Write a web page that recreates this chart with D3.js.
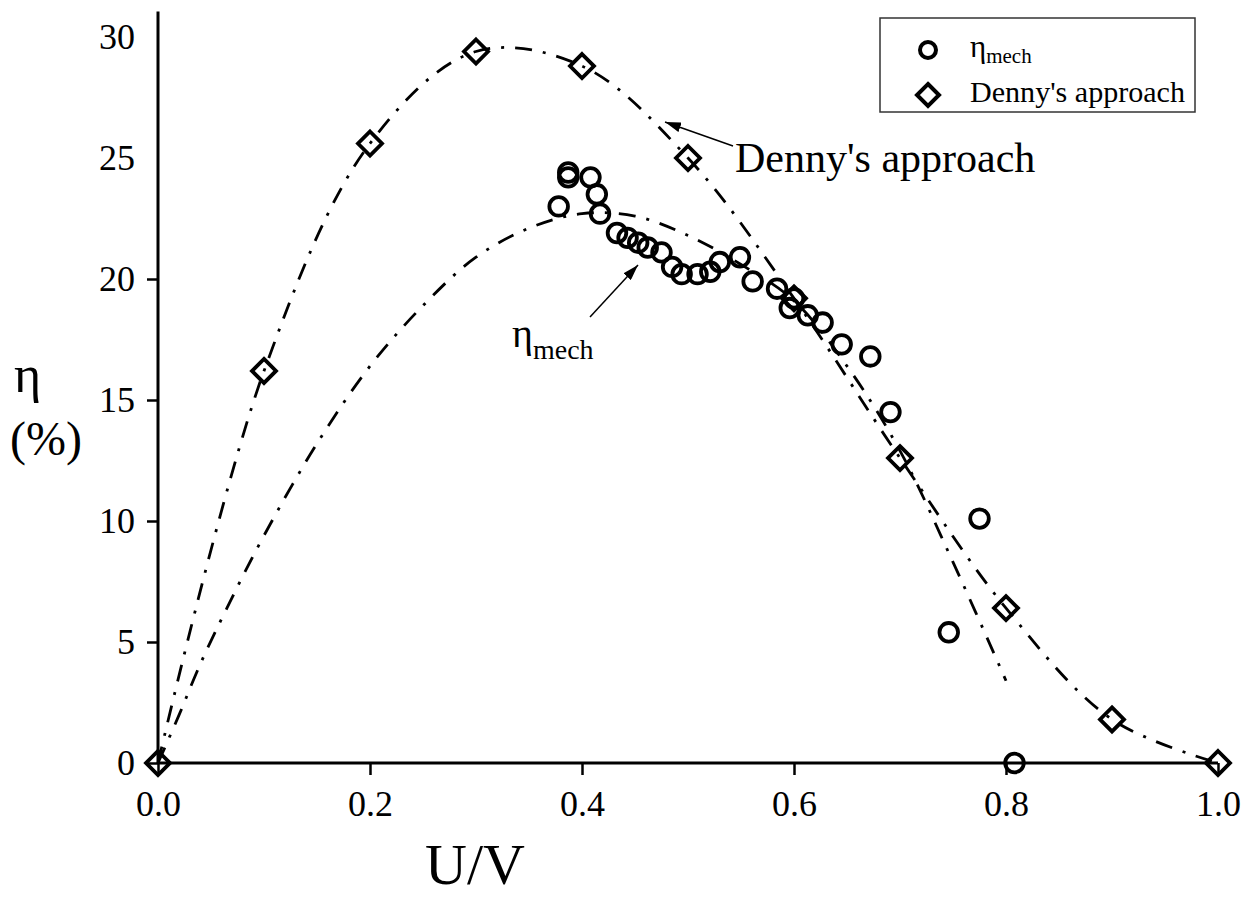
<!DOCTYPE html>
<html>
<head>
<meta charset="utf-8">
<script src="https://cdn.jsdelivr.net/npm/d3@7"></script>
<style>
  html, body { margin: 0; padding: 0; background: #fff; }
  svg { display: block; }
  text { font-family: "Liberation Serif", "Times New Roman", serif; fill: #000; }
</style>
</head>
<body>
<svg id="chart" width="1248" height="900"></svg>
<script>
// Measured mechanical efficiency (U/V, eta %)
const mechU = [0.378, 0.387, 0.387, 0.408, 0.414, 0.417, 0.433, 0.443, 0.453, 0.462,
               0.475, 0.485, 0.494, 0.509, 0.521, 0.530, 0.549, 0.561, 0.584, 0.596,
               0.600, 0.613, 0.627, 0.645, 0.672, 0.691, 0.746, 0.775, 0.808];
const mechEta = [23.0, 24.4, 24.2, 24.2, 23.5, 22.7, 21.9, 21.7, 21.5, 21.3,
                 21.1, 20.5, 20.2, 20.2, 20.3, 20.7, 20.9, 19.9, 19.6, 18.8,
                 19.2, 18.5, 18.2, 17.3, 16.8, 14.5, 5.4, 10.1, 0.0];

// Denny's approach
const dennyU = [0.0, 0.1, 0.2, 0.3, 0.4, 0.5, 0.6, 0.7, 0.8, 0.9, 1.0];
const dennyEta = [0.0, 16.2, 25.6, 29.4, 28.8, 25.0, 19.2, 12.6, 6.4, 1.8, 0.0];

// Fitted trend of the measured efficiency
const mechFitU = [0, 0.02, 0.04, 0.065, 0.1, 0.15, 0.2, 0.25, 0.3, 0.35, 0.4,
                  0.45, 0.5, 0.55, 0.6, 0.65, 0.7, 0.75, 0.8];
const mechFitEta = [0, 2.0, 4.1, 6.4, 9.4, 13.2, 16.4, 18.9, 20.9, 22.1, 22.7,
                    22.6, 21.8, 20.6, 19.1, 16.4, 12.9, 8.3, 3.4];

const xTicks = [0.0, 0.2, 0.4, 0.6, 0.8, 1.0];
const yTicks = [0, 5, 10, 15, 20, 25, 30];
const yTicksMarked = [0, 5, 10, 15, 20];

const svg = d3.select("#chart");
svg.append("rect").attr("width", 1248).attr("height", 900).attr("fill", "#fff");

const x = d3.scaleLinear().domain([0, 1]).range([158, 1218]);
const y = d3.scaleLinear().domain([0, 30]).range([763, 37]);

const defs = svg.append("defs");
defs.append("marker")
  .attr("id", "arrow")
  .attr("viewBox", "0 0 16 10")
  .attr("refX", 16).attr("refY", 5)
  .attr("markerWidth", 16).attr("markerHeight", 10)
  .attr("markerUnits", "userSpaceOnUse")
  .attr("orient", "auto")
  .append("path").attr("d", "M0,0 L16,5 L0,10 Z").attr("fill", "#000");

// Axes
const xAxis = d3.axisBottom(x).tickValues(xTicks).tickFormat(d3.format(".1f"))
  .tickSize(12).tickSizeOuter(0).tickPadding(15);
const gx = svg.append("g").attr("transform", `translate(0,${y(0)})`).call(xAxis);
gx.select(".domain").remove();
gx.selectAll(".tick line").attr("stroke", "#000").attr("stroke-width", 2.5);
gx.selectAll(".tick text").attr("font-size", 36).attr("font-family", "Liberation Serif").attr("dy", "0.71em");
svg.append("line")
  .attr("x1", x(0)).attr("x2", x(1))
  .attr("y1", y(0)).attr("y2", y(0))
  .attr("stroke", "#000").attr("stroke-width", 3);

const yAxis = d3.axisLeft(y).tickValues(yTicks).tickFormat(d3.format("d"))
  .tickSize(11).tickSizeOuter(0).tickPadding(12);
const gy = svg.append("g").attr("transform", `translate(${x(0)},0)`).call(yAxis);
gy.select(".domain").remove();
gy.selectAll(".tick line")
  .attr("stroke", "#000").attr("stroke-width", 2.5)
  .attr("display", d => yTicksMarked.includes(d) ? null : "none");
gy.selectAll(".tick text").attr("font-size", 36).attr("font-family", "Liberation Serif");
svg.append("line")
  .attr("x1", x(0)).attr("x2", x(0))
  .attr("y1", y(0)).attr("y2", y(31.05))
  .attr("stroke", "#000").attr("stroke-width", 3);

// Axis titles
svg.append("text").attr("x", 475).attr("y", 884).attr("text-anchor", "middle")
  .attr("font-size", 58).text("U/V");
svg.append("text").attr("x", 14).attr("y", 392).attr("font-size", 52).text("η");
svg.append("text").attr("x", 10).attr("y", 455).attr("font-size", 48).text("(%)");

// Trend lines
const dennyPts = dennyU.map((u, i) => [u, dennyEta[i]]);
const mechFitPts = mechFitU.map((u, i) => [u, mechFitEta[i]]);
const line = d3.line().x(d => x(d[0])).y(d => y(d[1])).curve(d3.curveCatmullRom.alpha(0.5));

svg.append("path").attr("d", line(dennyPts))
  .attr("fill", "none").attr("stroke", "#000").attr("stroke-width", 2.8)
  .attr("stroke-dasharray", "17,11,3,11");
svg.append("path").attr("d", line(mechFitPts))
  .attr("fill", "none").attr("stroke", "#000").attr("stroke-width", 2.8)
  .attr("stroke-dasharray", "17,11,3,11");

// Markers
const diamond = r => `M0,${-r} L${r},0 L0,${r} L${-r},0 Z`;
svg.append("g").selectAll("path").data(dennyPts).join("path")
  .attr("transform", d => `translate(${x(d[0])},${y(d[1])})`)
  .attr("d", diamond(12))
  .attr("fill", "none").attr("stroke", "#000").attr("stroke-width", 3.8)
  .attr("stroke-linejoin", "miter");

const mechPts = mechU.map((u, i) => [u, mechEta[i]]);
svg.append("g").selectAll("circle").data(mechPts).join("circle")
  .attr("cx", d => x(d[0])).attr("cy", d => y(d[1])).attr("r", 9.3)
  .attr("fill", "none").attr("stroke", "#000").attr("stroke-width", 3.8);

// Annotations
svg.append("line").attr("x1", 733).attr("y1", 146).attr("x2", 665).attr("y2", 122)
  .attr("stroke", "#000").attr("stroke-width", 1.5).attr("marker-end", "url(#arrow)");
svg.append("text").attr("x", 735).attr("y", 172).attr("font-size", 42).text("Denny's approach");

svg.append("line").attr("x1", 590).attr("y1", 317).attr("x2", 638).attr("y2", 265)
  .attr("stroke", "#000").attr("stroke-width", 1.5).attr("marker-end", "url(#arrow)");
const annMech = svg.append("text").attr("x", 512).attr("y", 347).attr("font-size", 40);
annMech.append("tspan").text("η");
annMech.append("tspan").attr("font-size", 28).attr("dy", 12).text("mech");

// Legend
const lg = svg.append("g");
lg.append("rect").attr("x", 880).attr("y", 18).attr("width", 315).attr("height", 94)
  .attr("fill", "#fff").attr("stroke", "#333").attr("stroke-width", 1.5);
lg.append("circle").attr("cx", 928).attr("cy", 50).attr("r", 8)
  .attr("fill", "none").attr("stroke", "#000").attr("stroke-width", 4);
lg.append("path").attr("transform", "translate(928,95)").attr("d", diamond(11))
  .attr("fill", "none").attr("stroke", "#000").attr("stroke-width", 4);
const lt1 = lg.append("text").attr("x", 970).attr("y", 57).attr("font-size", 31);
lt1.append("tspan").text("η");
lt1.append("tspan").attr("font-size", 21).attr("dy", 6).text("mech");
lg.append("text").attr("x", 970).attr("y", 102).attr("font-size", 29)
  .attr("textLength", 215).attr("lengthAdjust", "spacingAndGlyphs").text("Denny's approach");
</script>
</body>
</html>
